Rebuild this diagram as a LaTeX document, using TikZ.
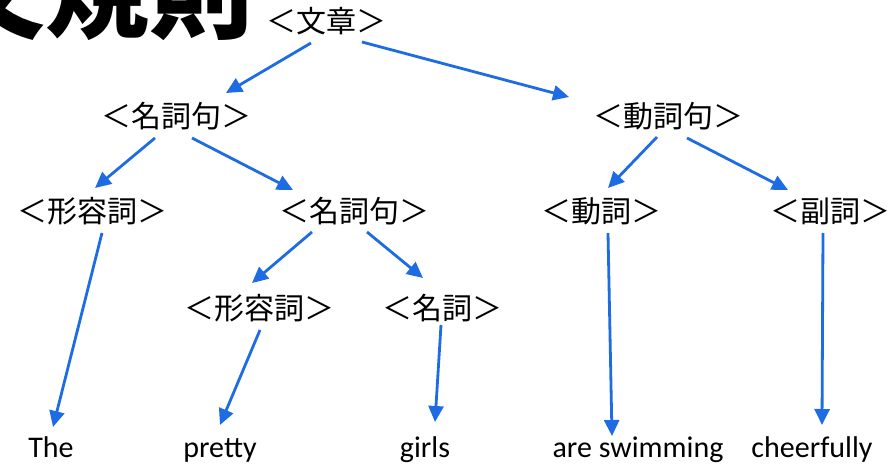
\documentclass[tikz,border=0pt]{standalone}
\usepackage{fontspec}
\newfontfamily\cjk{Noto Sans CJK JP}
\setmainfont{Carlito}
\usetikzlibrary{arrows.meta}
\definecolor{arrblue}{RGB}{30,108,228}
\tikzset{
  jp/.style={anchor=base, inner sep=0pt, font=\cjk\fontsize{30}{33}\selectfont},
  en/.style={anchor=base, inner sep=0pt, font=\fontsize{30}{34}\selectfont},
  arr/.style={draw=arrblue, line width=2.8pt, -{Triangle[length=16pt,width=15pt]}}
}
\begin{document}
\begin{tikzpicture}[x=1pt,y=-1pt]
\useasboundingbox (0,0) rectangle (889,465);
\clip (0,0) rectangle (889,465);
\fill[white] (0,0) rectangle (889,465);
% heading (cut off at the picture's edge, as in the reference)
\node[anchor=base east, inner sep=0pt, font=\cjk\bfseries\fontsize{104}{110}\selectfont] (title) at (254,31) {文規則};
% nodes
\node[jp] (s)   at (326,33)  {＜文章＞};
\node[jp] (np1) at (176,128) {＜名詞句＞};
\node[jp] (vp)  at (668,128) {＜動詞句＞};
\node[jp] (adj1) at (92,223) {＜形容詞＞};
\node[jp] (np2) at (354,223) {＜名詞句＞};
\node[jp] (v)   at (601,223) {＜動詞＞};
\node[jp] (adv) at (830,223) {＜副詞＞};
\node[jp] (adj2) at (259,319) {＜形容詞＞};
\node[jp] (n)   at (442,319) {＜名詞＞};
\node[en] (w1) at (51,457)  {The};
\node[en] (w2) at (220,457) {pretty};
\node[en] (w3) at (425,457) {girls};
\node[en] (w4) at (638,457) {are swimming};
\node[en] (w5) at (812,457) {cheerfully};
% connectors
\draw[arr] ([shift={(-15,10)}]s.base) -- ([shift={(50,-35)}]np1.base);
\draw[arr] ([shift={(36,9)}]s.base) -- ([shift={(-99,-31)}]vp.base);
\draw[arr] ([shift={(-21,10)}]np1.base) -- ([shift={(3,-35)}]adj1.base);
\draw[arr] ([shift={(16,10)}]np1.base) -- ([shift={(-61,-33)}]np2.base);
\draw[arr] ([shift={(-11,9)}]vp.base) -- ([shift={(7,-35)}]v.base);
\draw[arr] ([shift={(19,10)}]vp.base) -- ([shift={(-42,-33)}]adv.base);
\draw[arr] ([shift={(-42,9)}]np2.base) -- ([shift={(-7,-36)}]adj2.base);
\draw[arr] ([shift={(13,9)}]np2.base) -- ([shift={(-19,-41)}]n.base);
\draw[arr] ([shift={(10,10)}]adj1.base) -- ([shift={(2,-30)}]w1.base);
\draw[arr] ([shift={(1,11)}]adj2.base) -- ([shift={(0,-32)}]w2.base);
\draw[arr] ([shift={(-1,6)}]n.base) -- ([shift={(10,-35)}]w3.base);
\draw[arr] ([shift={(7,10)}]v.base) -- ([shift={(-26,-21)}]w4.base);
\draw[arr] ([shift={(-7,10)}]adv.base) -- ([shift={(10,-32)}]w5.base);
\end{tikzpicture}
\end{document}
